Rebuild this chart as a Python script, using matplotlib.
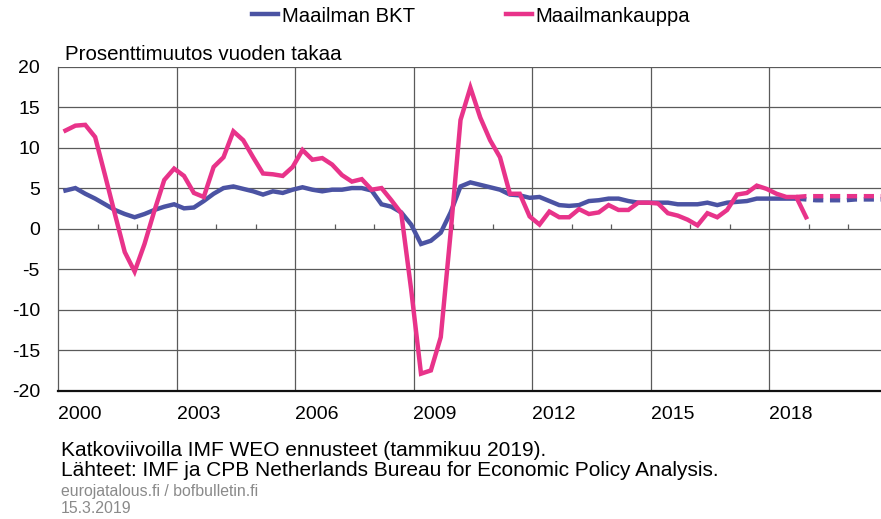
import matplotlib
matplotlib.use("Agg")
import matplotlib.pyplot as plt
import numpy as np
import pandas as pd

plt.rcParams['font.family'] = ['Liberation Sans', 'DejaVu Sans']

# quarterly data, y/y % change
quarters = pd.period_range('2000Q1', '2018Q4', freq='Q')
gdp = [4.7, 5.0, 4.3, 3.7,  3.0, 2.3, 1.8, 1.4,  1.8, 2.3, 2.7, 3.0,  2.5, 2.6, 3.4, 4.3,
       5.0, 5.2, 4.9, 4.6,  4.2, 4.6, 4.4, 4.8,  5.1, 4.8, 4.6, 4.8,  4.8, 5.0, 5.0, 4.7,
       3.0, 2.7, 2.0, 0.5,  -1.9, -1.5, -0.5, 2.0,  5.2, 5.7, 5.4, 5.1,  4.8, 4.2, 4.1, 3.8,
       3.9, 3.4, 2.9, 2.8,  2.9, 3.4, 3.5, 3.7,  3.7, 3.4, 3.2, 3.2,  3.2, 3.2, 3.0, 3.0,
       3.0, 3.2, 2.9, 3.2,  3.3, 3.4, 3.7, 3.7,  3.7, 3.7, 3.7]          # to 2018Q3
trade = [12.1, 12.7, 12.8, 11.3,  6.6, 1.8, -2.9, -5.3,  -1.9, 2.2, 6.0, 7.4,  6.5, 4.4, 3.9, 7.6,
         8.8, 12.0, 10.9, 8.8,  6.8, 6.7, 6.5, 7.6,  9.7, 8.5, 8.7, 7.9,  6.6, 5.8, 6.1, 4.8,
         5.0, 3.5, 1.9, -7.5,  -17.9, -17.5, -13.4, -0.5,  13.4, 17.4, 13.7, 10.9,  8.8, 4.3, 4.3, 1.5,
         0.5, 2.1, 1.4, 1.4,  2.4, 1.8, 2.0, 2.9,  2.3, 2.3, 3.2, 3.2,  3.1, 1.9, 1.6, 1.1,
         0.4, 1.9, 1.4, 2.3,  4.2, 4.4, 5.3, 4.9,  4.3, 3.9, 3.9, 1.4]

# IMF WEO forecasts (Jan 2019), from 2018Q3
fc_quarters = pd.period_range('2018Q3', '2020Q4', freq='Q')
gdp_fc = [3.7, 3.6, 3.5, 3.5, 3.5, 3.5, 3.6, 3.6, 3.6, 3.6]
trade_fc = [3.9, 4.0, 4.0, 4.0, 4.0, 4.0, 4.0, 4.0, 4.0, 4.0]

year_labels = [2000, 2003, 2006, 2009, 2012, 2015, 2018]
yticks = [-20, -15, -10, -5, 0, 5, 10, 15, 20]

BLUE = '#4b53a3'
PINK = '#e8338a'
GRID = '#5a5a5a'


def xpos(q):
    return q.year + (q.quarter - 1) / 4 + 0.19


fig = plt.figure(figsize=(8.81, 5.19), dpi=100)
ax = fig.add_axes([58 / 881, 128.3 / 519, 1 - 58 / 881, 324.2 / 519])

x = xpos(quarters)
xf = xpos(fc_quarters)
ax.plot(x[:len(gdp)], gdp, color=BLUE, lw=3.2, solid_joinstyle='miter', zorder=3)
ax.plot(x, trade, color=PINK, lw=3.2, solid_joinstyle='miter', zorder=4)
ax.plot(xf, gdp_fc, color=BLUE, lw=3.2, dashes=(2.3, 1.5), zorder=3)
ax.plot(xf, trade_fc, color=PINK, lw=3.2, dashes=(2.3, 1.5), zorder=4)

ax.set_xlim(2000, 2000 + 823 / 39.5)
ax.set_ylim(-20, 20)

# grid
for yv in yticks:
    ax.axhline(yv, color=GRID, lw=0.9, zorder=1)
for yr in year_labels[1:]:
    ax.axvline(yr, color=GRID, lw=0.9, zorder=1)
# small year ticks on the zero line
minor_years = [y for y in range(2001, 2021) if y not in year_labels]
ax.vlines(minor_years, 0, 0.6, color=GRID, lw=0.9, zorder=1)

for s in ['top', 'right']:
    ax.spines[s].set_visible(False)
ax.spines['left'].set_color(GRID)
ax.spines['left'].set_linewidth(0.9)
ax.spines['bottom'].set_color('#111111')
ax.spines['bottom'].set_linewidth(1.6)

ax.set_yticks(yticks)
ax.set_yticklabels([str(v) for v in yticks])
ax.set_xticks(year_labels)
ax.set_xticklabels([str(v) for v in year_labels])
for lbl in ax.get_xticklabels():
    lbl.set_horizontalalignment('left')
ax.tick_params(axis='y', length=0, pad=13, labelsize=14)
ax.tick_params(axis='x', length=0, pad=11, labelsize=14)

fig.text(65 / 881, 1 - 55 / 519, 'Prosenttimuutos vuoden takaa', fontsize=14.8,
         va='center', ha='left')

handles = [plt.Line2D([], [], color=BLUE, lw=3.2),
           plt.Line2D([], [], color=PINK, lw=3.2)]
fig.legend(handles, ['Maailman BKT', 'Maailmankauppa'], loc='center',
           bbox_to_anchor=(471 / 881, 1 - 16 / 519), ncol=2, frameon=False,
           fontsize=14.6, handlelength=1.3, handletextpad=0.15, columnspacing=4.5)

fig.text(61 / 881, 1 - 450 / 519, 'Katkoviivoilla IMF WEO ennusteet (tammikuu 2019).',
         fontsize=15, va='center')
fig.text(61 / 881, 1 - 470 / 519,
         'Lähteet: IMF ja CPB Netherlands Bureau for Economic Policy Analysis.',
         fontsize=15, va='center')
fig.text(61 / 881, 1 - 491.5 / 519, 'eurojatalous.fi / bofbulletin.fi',
         fontsize=11.4, color='#8a8a8a', va='center')
fig.text(61 / 881, 1 - 508.5 / 519, '15.3.2019', fontsize=11.4, color='#8a8a8a',
         va='center')

fig.savefig('out.png', dpi=100)
